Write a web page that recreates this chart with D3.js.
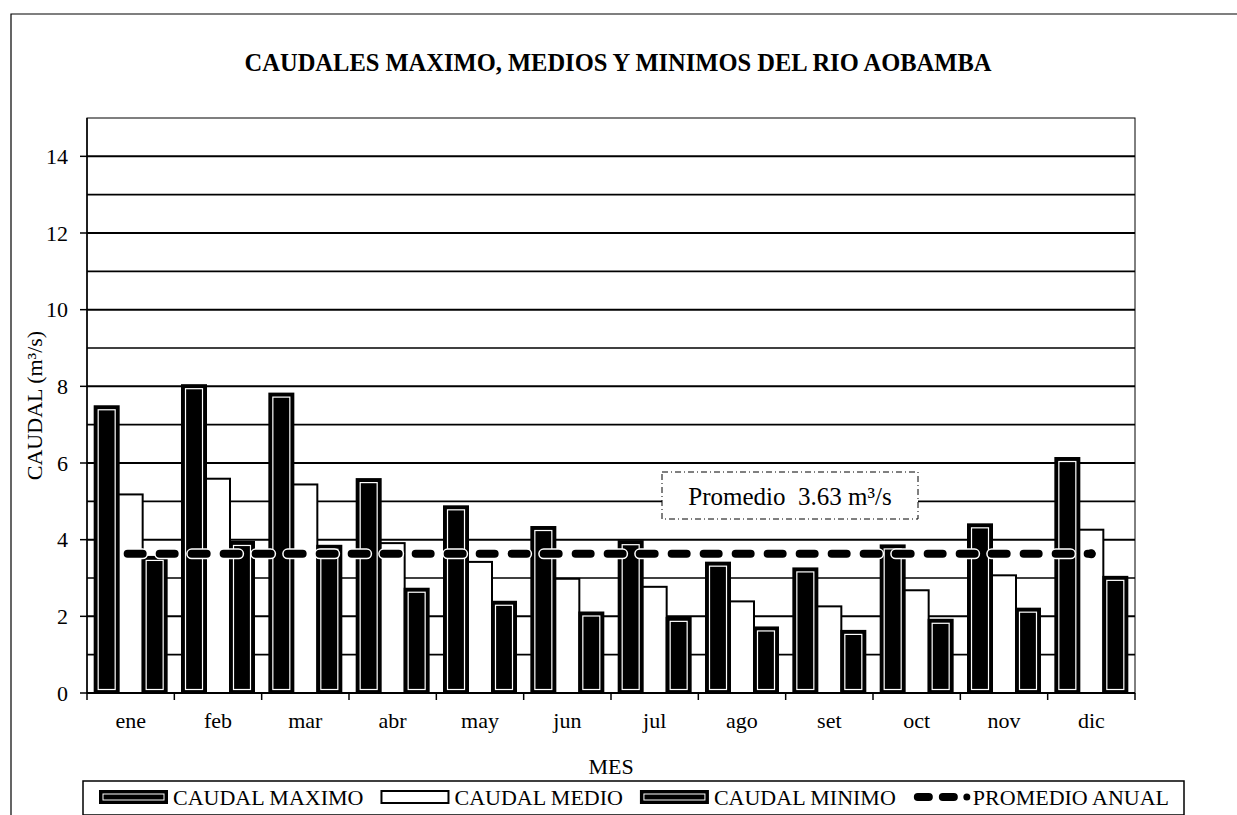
<!DOCTYPE html>
<html>
<head>
<meta charset="utf-8">
<script src="https://cdn.jsdelivr.net/npm/d3@7"></script>
<style>
  body { margin: 0; background: #fff; }
  text { font-family: "Liberation Serif", "Times New Roman", serif; fill: #000; }
</style>
</head>
<body>
<div id="chart"></div>
<script>
// data
const months = ["ene", "feb", "mar", "abr", "may", "jun", "jul", "ago", "set", "oct", "nov", "dic"];
const caudalMaximo = [7.48, 8.03, 7.81, 5.58, 4.87, 4.33, 3.96, 3.40, 3.25, 3.85, 4.40, 6.13];
const caudalMedio  = [5.18, 5.59, 5.44, 3.91, 3.42, 2.98, 2.77, 2.39, 2.26, 2.68, 3.07, 4.26];
const caudalMinimo = [3.55, 3.94, 3.84, 2.72, 2.38, 2.10, 1.96, 1.71, 1.62, 1.91, 2.20, 3.03];
const promedioAnual = 3.63;
const yTicks = [0, 2, 4, 6, 8, 10, 12, 14];
const gridValues = d3.range(1, 15);
const seriesNames = ["CAUDAL MAXIMO", "CAUDAL MEDIO", "CAUDAL MINIMO"];

const W = 1237, H = 815;
const plot = { left: 87, right: 1135, top: 118, bottom: 693 };

const svg = d3.select("#chart").append("svg")
    .attr("width", W)
    .attr("height", H);

// page frame (left + top only, the rest is cut off)
svg.append("path")
    .attr("d", `M11,${H} V14 H${W}`)
    .attr("fill", "none")
    .attr("stroke", "#000")
    .attr("stroke-width", 1.2);

svg.append("text")
    .attr("x", 618)
    .attr("y", 71)
    .attr("text-anchor", "middle")
    .style("font-size", "24.5px")
    .style("font-weight", "bold")
    .text("CAUDALES MAXIMO, MEDIOS Y MINIMOS DEL RIO AOBAMBA");

const x = d3.scaleBand().domain(months).range([plot.left, plot.right]);
const xs = d3.scaleBand().domain(seriesNames).range([0, x.bandwidth()]).paddingOuter(0.32);
const y = d3.scaleLinear().domain([0, 15]).range([plot.bottom, plot.top]);

// grid
svg.append("g").selectAll("line")
    .data(gridValues)
    .join("line")
    .attr("x1", plot.left).attr("x2", plot.right)
    .attr("y1", d => y(d)).attr("y2", d => y(d))
    .attr("stroke", "#000")
    .attr("stroke-width", d => d % 2 === 0 ? 2 : 1.6);

// plot frame
svg.append("rect")
    .attr("x", plot.left).attr("y", plot.top)
    .attr("width", plot.right - plot.left)
    .attr("height", plot.bottom - plot.top)
    .attr("fill", "none")
    .attr("stroke", "#000")
    .attr("stroke-width", 1);

// bars
const bars = [];
months.forEach((m, i) => {
    bars.push({ m, s: seriesNames[0], v: caudalMaximo[i] });
    bars.push({ m, s: seriesNames[1], v: caudalMedio[i] });
    bars.push({ m, s: seriesNames[2], v: caudalMinimo[i] });
});

const barG = svg.append("g");
barG.selectAll("rect.bar")
    .data(bars)
    .join("rect")
    .attr("class", "bar")
    .attr("x", d => x(d.m) + xs(d.s))
    .attr("y", d => y(d.v))
    .attr("width", xs.bandwidth())
    .attr("height", d => y(0) - y(d.v))
    .attr("fill", d => d.s === "CAUDAL MEDIO" ? "#fff" : "#000")
    .attr("stroke", "#000")
    .attr("stroke-width", 2);

// white inner bevel line on the dark bars
barG.selectAll("rect.inner")
    .data(bars.filter(d => d.s !== "CAUDAL MEDIO"))
    .join("rect")
    .attr("class", "inner")
    .attr("x", d => x(d.m) + xs(d.s) + 3.5)
    .attr("y", d => y(d.v) + 3.5)
    .attr("width", xs.bandwidth() - 7)
    .attr("height", d => y(0) - y(d.v) - 7)
    .attr("fill", "none")
    .attr("stroke", "#fff")
    .attr("stroke-width", 1.2);

// annual average line
const avgX1 = x(months[0]) + x.bandwidth() / 2 - 3;
const avgX2 = x(months[months.length - 1]) + x.bandwidth() / 2;
svg.append("line")
    .attr("x1", avgX1).attr("x2", avgX2)
    .attr("y1", y(promedioAnual)).attr("y2", y(promedioAnual))
    .attr("stroke", "#fff")
    .attr("stroke-width", 11)
    .attr("stroke-linecap", "round")
    .attr("stroke-dasharray", "15 17");
svg.append("line")
    .attr("x1", avgX1).attr("x2", avgX2)
    .attr("y1", y(promedioAnual)).attr("y2", y(promedioAnual))
    .attr("stroke", "#000")
    .attr("stroke-width", 8)
    .attr("stroke-linecap", "round")
    .attr("stroke-dasharray", "15 17");
svg.append("circle")
    .attr("cx", avgX2).attr("cy", y(promedioAnual))
    .attr("r", 4.5)
    .attr("fill", "#000");

// axes
const yAxis = svg.append("g");
yAxis.append("line")
    .attr("x1", plot.left).attr("x2", plot.left)
    .attr("y1", plot.top).attr("y2", plot.bottom)
    .attr("stroke", "#000").attr("stroke-width", 1.5);
yAxis.selectAll("line.tick")
    .data(yTicks)
    .join("line")
    .attr("class", "tick")
    .attr("x1", plot.left - 7).attr("x2", plot.left)
    .attr("y1", d => y(d)).attr("y2", d => y(d))
    .attr("stroke", "#000").attr("stroke-width", 1.5);
yAxis.selectAll("text")
    .data(yTicks)
    .join("text")
    .attr("x", 68)
    .attr("y", d => y(d))
    .attr("dy", "0.35em")
    .attr("text-anchor", "end")
    .style("font-size", "22px")
    .text(d => d);

const xAxis = svg.append("g");
xAxis.append("line")
    .attr("x1", plot.left).attr("x2", plot.right)
    .attr("y1", y(0)).attr("y2", y(0))
    .attr("stroke", "#000").attr("stroke-width", 2);
xAxis.selectAll("line.tick")
    .data(months.concat(["end"]))
    .join("line")
    .attr("class", "tick")
    .attr("x1", (d, i) => plot.left + i * x.step())
    .attr("x2", (d, i) => plot.left + i * x.step())
    .attr("y1", y(0)).attr("y2", y(0) + 7)
    .attr("stroke", "#000").attr("stroke-width", 1.5);
xAxis.selectAll("text")
    .data(months)
    .join("text")
    .attr("x", d => x(d) + x.bandwidth() / 2)
    .attr("y", 728)
    .attr("text-anchor", "middle")
    .style("font-size", "22px")
    .text(d => d);

// axis titles
svg.append("text")
    .attr("transform", `translate(42,${(plot.top + plot.bottom) / 2}) rotate(-90)`)
    .attr("text-anchor", "middle")
    .style("font-size", "22px")
    .text("CAUDAL (m³/s)");

svg.append("text")
    .attr("x", (plot.left + plot.right) / 2)
    .attr("y", 774)
    .attr("text-anchor", "middle")
    .style("font-size", "22px")
    .text("MES");

// annotation box
const note = svg.append("g");
note.append("rect")
    .attr("x", 662).attr("y", 472)
    .attr("width", 256).attr("height", 47)
    .attr("fill", "#fff")
    .attr("stroke", "#000")
    .attr("stroke-width", 1)
    .attr("stroke-dasharray", "6 3 1 3");
note.append("text")
    .attr("x", 790).attr("y", 505)
    .attr("text-anchor", "middle")
    .style("font-size", "25px")
    .attr("xml:space", "preserve")
    .text("Promedio  3.63 m³/s");

// legend
const leg = svg.append("g");
leg.append("rect")
    .attr("x", 83).attr("y", 781)
    .attr("width", 1101).attr("height", 34)
    .attr("fill", "#fff")
    .attr("stroke", "#000")
    .attr("stroke-width", 1.5);

const legY = 797;
let cx = 100;
seriesNames.forEach(name => {
    const dark = name !== "CAUDAL MEDIO";
    leg.append("rect")
        .attr("x", cx).attr("y", legY - 6)
        .attr("width", 67).attr("height", 12)
        .attr("fill", dark ? "#000" : "#fff")
        .attr("stroke", "#000").attr("stroke-width", 2);
    if (dark) {
        leg.append("rect")
            .attr("x", cx + 3).attr("y", legY - 3)
            .attr("width", 61).attr("height", 6)
            .attr("fill", "none")
            .attr("stroke", "#fff").attr("stroke-width", 1);
    }
    const t = leg.append("text")
        .attr("x", cx + 73).attr("y", legY)
        .attr("dy", "0.35em")
        .style("font-size", "22px")
        .text(name);
    cx += 73 + t.node().getComputedTextLength() + 18;
});
leg.append("line")
    .attr("x1", cx + 4).attr("x2", cx + 40)
    .attr("y1", legY).attr("y2", legY)
    .attr("stroke", "#000").attr("stroke-width", 8)
    .attr("stroke-linecap", "round")
    .attr("stroke-dasharray", "11 14");
leg.append("circle")
    .attr("cx", cx + 53).attr("cy", legY).attr("r", 3.5).attr("fill", "#000");
leg.append("text")
    .attr("x", cx + 59).attr("y", legY)
    .attr("dy", "0.35em")
    .style("font-size", "22px")
    .text("PROMEDIO ANUAL");
</script>
</body>
</html>
